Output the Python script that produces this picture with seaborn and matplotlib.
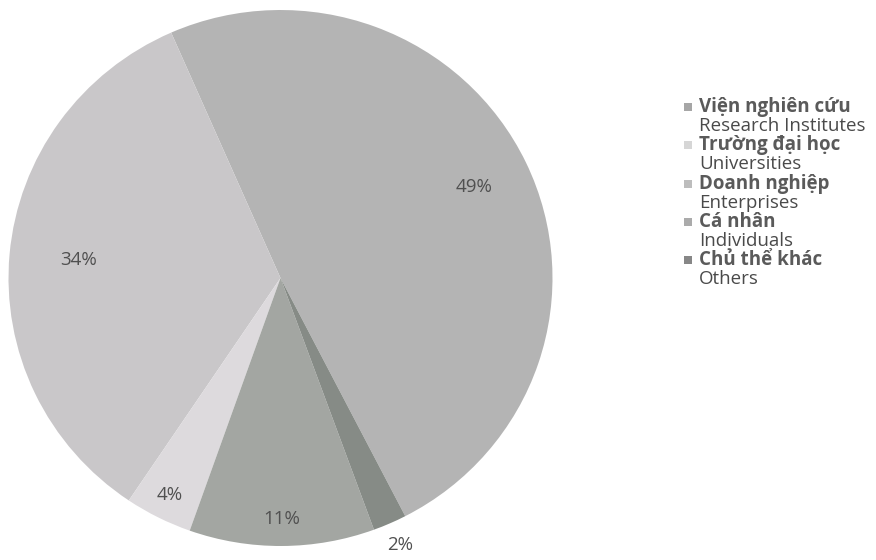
import matplotlib
matplotlib.use("Agg")
import matplotlib.pyplot as plt
import seaborn as sns
import numpy as np
from matplotlib.patches import Rectangle

# Data
labels_vi = ["Viện nghiên cứu", "Trường đại học", "Doanh nghiệp", "Cá nhân", "Chủ thể khác"]
labels_en = ["Research Institutes", "Universities", "Enterprises", "Individuals", "Others"]
values = [49, 34, 4, 11, 2]
pct_labels = ["49%", "34%", "4%", "11%", "2%"]

# Styles
slice_colors = ["#b4b4b4", "#c9c7c9", "#dddadd", "#a3a6a2", "#868b86"]
legend_colors = ["#a6a6a6", "#d6d6d6", "#bdbdbd", "#ababab", "#878787"]
label_radius = [0.79, 0.745, 0.905, 0.90, 1.09]

sns.set_theme(style="white")
plt.rcParams['font.family'] = ['Open Sans', 'DejaVu Sans']

fig = plt.figure(figsize=(8.76, 5.6), dpi=100)
fig.patch.set_facecolor("white")
W, H = 876, 560
cx, cy, RX, RY = 280.5, 278, 272, 268
ax = fig.add_axes([(cx - RX) / W, (H - cy - RY) / H, 2 * RX / W, 2 * RY / H])

start = -62.7
wedges, _ = ax.pie(values, colors=slice_colors, startangle=start, counterclock=True,
                   wedgeprops=dict(linewidth=0), radius=1)
ax.set_xlim(-1, 1)
ax.set_ylim(-1, 1)
ax.set_aspect("auto")
ax.axis("off")

for w, txt, r in zip(wedges, pct_labels, label_radius):
    mid = np.deg2rad((w.theta1 + w.theta2) / 2)
    ax.text(r * np.cos(mid), r * np.sin(mid), txt, ha="center", va="center",
            fontsize=13.5, color="#505050", clip_on=False)

# Legend
y0 = 107
step = 38.3
for i, (vi, en, c) in enumerate(zip(labels_vi, labels_en, legend_colors)):
    y = y0 + i * step
    fig.patches.append(Rectangle(((684) / W, (H - y - 4) / H), 8 / W, 8 / H,
                                 transform=fig.transFigure, facecolor=c, edgecolor="none"))
    fig.text(699 / W, (H - y) / H, vi, ha="left", va="center", fontsize=13.5,
             fontweight="bold", color="#5a5a5a")
    fig.text(699 / W, (H - y - 19) / H, en, ha="left", va="center", fontsize=13.5,
             color="#4a4a4a")

fig.savefig("out.png", dpi=100, facecolor="white")
